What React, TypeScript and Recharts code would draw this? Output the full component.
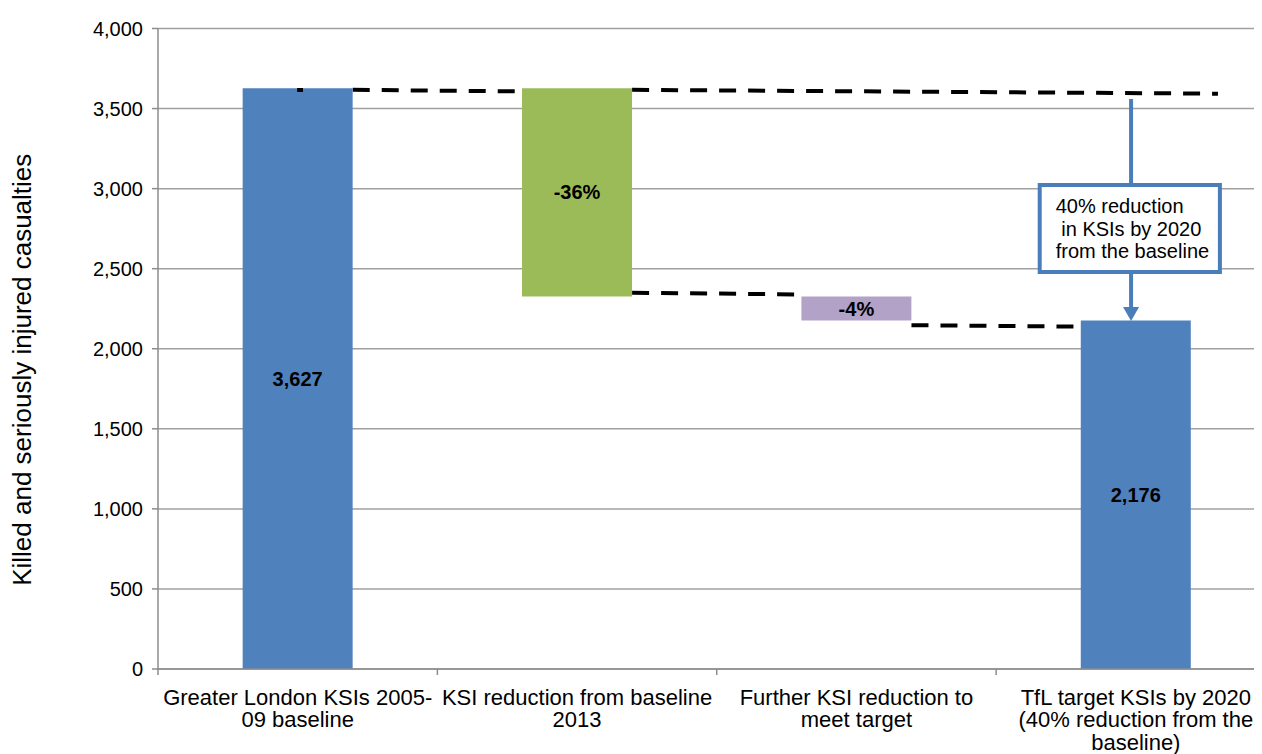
import React from "react";
import {
  ComposedChart,
  Bar,
  XAxis,
  YAxis,
  CartesianGrid,
  ReferenceLine,
  ReferenceArea,
  LabelList,
  Cell,
  Label,
} from "recharts";

// ---- data ----
const categories = [
  "Greater London KSIs 2005-\n09 baseline",
  "KSI reduction from baseline\n2013",
  "Further KSI reduction to\nmeet target",
  "TfL target KSIs by 2020\n(40% reduction from the\nbaseline)",
];
const baseValues = [0, 2326, 2176, 0];
const stepValues = [3627, 1301, 150, 2176];
const stepLabels = ["3,627", "-36%", "-4%", "2,176"];
const stepColors = ["#4F81BD", "#9BBB59", "#B3A2C7", "#4F81BD"];
const yTicks = [0, 500, 1000, 1500, 2000, 2500, 3000, 3500, 4000];

// dashed connector lines (category position, KSI value)
const guideX1 = [0.697, 1.697, 1.697, 2.697];
const guideY1 = [3617, 3617, 2350, 2147];
const guideX2 = [1.303, 3.794, 2.303, 3.303];
const guideY2 = [3607, 3593, 2339, 2138];

// annotation
const noteLines = ["40% reduction", " in KSIs by 2020", "from the baseline"];
const noteArrowX = 3.483;
const noteArrowTop = 3560;
const noteBoxX = [3.156, 3.801];
const noteBoxY = [2479, 3022];
const noteArrowTip = 2173;
const yTitle = "Killed and seriously injured casualties";

const data = categories.map((c, i) => ({
  name: c,
  pos: i + 0.5,
  base: baseValues[i],
  value: stepValues[i],
  label: stepLabels[i],
}));

const FONT = '"Liberation Sans", Arial, sans-serif';
const BLUE = "#4A7EBB";
const GRID = "#A0A0A0";
const AXIS = "#8C8C8C";

const CHART_W = 1280;
const Y_AXIS_W = 150;
const MARGIN_R = 12.5;
const HALF_BAND = (CHART_W - Y_AXIS_W - MARGIN_R) / categories.length / 2;

const CategoryTick = (props: any) => {
  const { x, y, payload } = props;
  const lines = String(payload.value).split("\n");
  const bx = x - HALF_BAND;
  return (
    <g>
      <line x1={bx} y1={y} x2={bx} y2={y + 6} stroke={AXIS} strokeWidth={1.5} />
      {lines.map((l, i) => (
        <text
          key={i}
          x={x}
          y={y + 28 + i * 22.5}
          dy="0.355em"
          textAnchor="middle"
          fill="#000"
          fontSize={22}
          fontFamily={FONT}
        >
          {l}
        </text>
      ))}
    </g>
  );
};

const ArrowShape = (p: any) => {
  const { x1, y1, x2, y2 } = p;
  const head = 14;
  const hw = 8;
  return (
    <g>
      <line x1={x1} y1={y1} x2={x2} y2={y2 - head} stroke={BLUE} strokeWidth={4} />
      <polygon
        points={`${x2},${y2} ${x2 - hw},${y2 - head} ${x2 + hw},${y2 - head}`}
        fill={BLUE}
      />
    </g>
  );
};

const NoteText = (props: any) => {
  const vb = props.viewBox || {};
  return (
    <g>
      {noteLines.map((l, i) => (
        <text
          key={i}
          x={vb.x + 16}
          y={vb.y + 21 + i * 22.5}
          dy="0.355em"
          fill="#000"
          fontSize={20}
          fontFamily={FONT}
          style={{ whiteSpace: "pre" }}
        >
          {l}
        </text>
      ))}
    </g>
  );
};

const YTitle = (props: any) => {
  const vb = props.viewBox || {};
  const cx = vb.x + 14;
  const cy = vb.y + vb.height / 2 + 21;
  return (
    <text
      x={cx}
      y={cy}
      transform={`rotate(-90 ${cx} ${cy})`}
      textAnchor="middle"
      dy="0.355em"
      fill="#000"
      fontSize={26}
      fontFamily={FONT}
    >
      {yTitle}
    </text>
  );
};

export default function App() {
  return (
    <div style={{ width: 1254, height: 746, overflow: "hidden" }}>
      <ComposedChart
        width={CHART_W}
        height={746}
        data={data}
        margin={{ top: 20.5, right: MARGIN_R, bottom: 0, left: 0 }}
        barCategoryGap="30.3%"
        style={{ fontFamily: FONT }}
      >
        <CartesianGrid vertical={false} stroke={GRID} strokeWidth={1.5} />
        <XAxis
          dataKey="name"
          axisLine={{ stroke: AXIS, strokeWidth: 1.5 }}
          tickLine={false}
          tickSize={0}
          tickMargin={0}
          height={85}
          interval={0}
          tick={<CategoryTick />}
        />
        <XAxis
          xAxisId="n"
          dataKey="pos"
          type="number"
          domain={[0, 4]}
          allowDataOverflow
          hide
        />
        <YAxis
          width={Y_AXIS_W}
          domain={[0, 4000]}
          ticks={yTicks}
          tickFormatter={(v: number) => v.toLocaleString("en-US")}
          tick={{ fill: "#000", fontSize: 20, fontFamily: FONT }}
          tickSize={6}
          tickMargin={9}
          axisLine={{ stroke: AXIS, strokeWidth: 1.5 }}
          tickLine={{ stroke: AXIS, strokeWidth: 1.5 }}
        >
          <Label content={<YTitle />} />
        </YAxis>

        {guideX1.map((x, i) => (
          <ReferenceLine
            key={"g" + i}
            xAxisId="n"
            segment={[
              { x, y: guideY1[i] },
              { x: guideX2[i], y: guideY2[i] },
            ]}
            stroke="#000"
            strokeWidth={4}
            strokeDasharray="17 12"
            ifOverflow="visible"
            zIndex={250}
          />
        ))}

        <Bar dataKey="base" stackId="s" fill="transparent" isAnimationActive={false} />
        <Bar dataKey="value" stackId="s" isAnimationActive={false}>
          {data.map((d, i) => (
            <Cell key={i} fill={stepColors[i]} />
          ))}
          <LabelList
            dataKey="label"
            position="center"
            fill="#000"
            fontSize={20}
            fontWeight="bold"
            fontFamily={FONT}
          />
        </Bar>

        <ReferenceLine
          xAxisId="n"
          segment={[
            { x: 0.498, y: 3616 },
            { x: 0.519, y: 3616 },
          ]}
          stroke="#000"
          strokeWidth={4}
          ifOverflow="visible"
          zIndex={1500}
        />

        <ReferenceLine
          xAxisId="n"
          segment={[
            { x: noteArrowX, y: noteArrowTop },
            { x: noteArrowX, y: noteBoxY[1] },
          ]}
          stroke={BLUE}
          strokeWidth={4}
          ifOverflow="visible"
          zIndex={1500}
        />
        <ReferenceLine
          xAxisId="n"
          segment={[
            { x: noteArrowX, y: noteBoxY[0] },
            { x: noteArrowX, y: noteArrowTip },
          ]}
          shape={<ArrowShape />}
          ifOverflow="visible"
          zIndex={1500}
        />
        <ReferenceArea
          xAxisId="n"
          x1={noteBoxX[0]}
          x2={noteBoxX[1]}
          y1={noteBoxY[0]}
          y2={noteBoxY[1]}
          fill="#FFFFFF"
          fillOpacity={1}
          stroke={BLUE}
          strokeWidth={4}
          ifOverflow="visible"
          zIndex={1500}
          label={<NoteText />}
        />
      </ComposedChart>
    </div>
  );
}
